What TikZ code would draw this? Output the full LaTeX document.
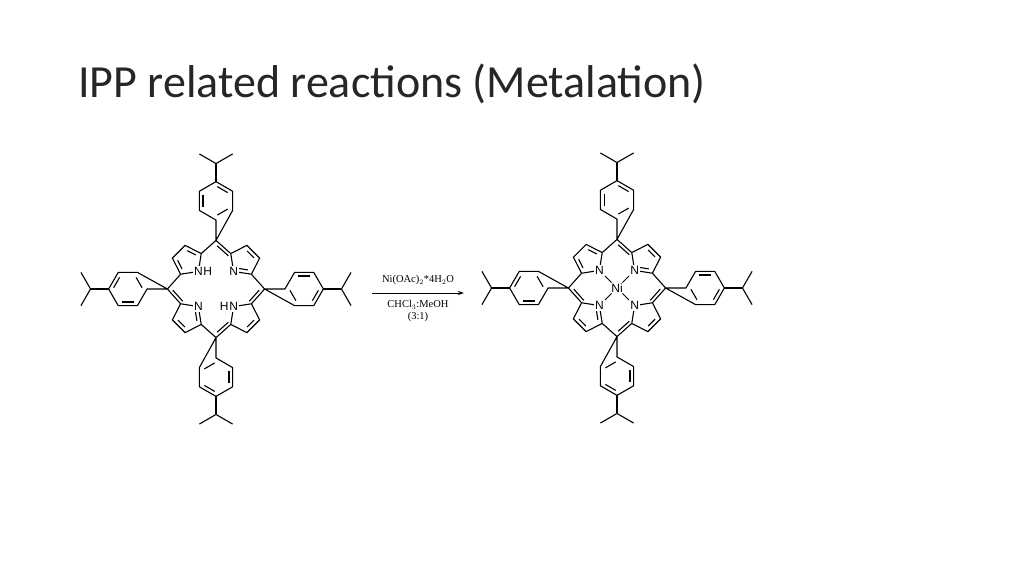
\documentclass[tikz,border=0pt]{standalone}
\usepackage{fontspec}
\setmainfont{Liberation Serif}
\newfontfamily\titlefont{Carlito}
\newfontfamily\labfont{Liberation Sans}
\usetikzlibrary{calc,arrows.meta}
\tikzset{bond/.style={line width=1.1pt},
  lab/.style={fill=white,inner sep=0.8pt,font=\labfont\fontsize{12}{12}\selectfont},
  reag/.style={font=\fontsize{10.5}{11}\selectfont,inner sep=1pt}}
\newcommand\dbl[4]{\draw[bond,shorten >=1.5pt,shorten <=1.5pt] ($(#1)!#4!(#3)$) -- ($(#2)!#4!(#3)$);}
\newcommand\pyr[3]{%
 \begin{scope}[rotate=#3]
 \coordinate (#1N#2) at (22,0);
 \coordinate (#1L#2) at (31.4,12.9);
 \coordinate (#1R#2) at (31.4,-12.9);
 \coordinate (#1U#2) at (46.6,8);
 \coordinate (#1V#2) at (46.6,-8);
 \coordinate (#1O#2) at (35.6,0);
 \end{scope}
 \draw[bond,line join=round] (#1N#2)--(#1L#2)--(#1U#2)--(#1V#2)--(#1R#2)--cycle;}
\newcommand\phen[3]{% prefix, meso index, angle
 \begin{scope}[rotate=#3]
 \coordinate (#1H#2) at (78,0);
 \coordinate (#1ha#2) at (61,0);
 \coordinate (#1hb#2) at (69.5,14.7);
 \coordinate (#1hc#2) at (86.5,14.7);
 \coordinate (#1hd#2) at (95,0);
 \coordinate (#1he#2) at (86.5,-14.7);
 \coordinate (#1hf#2) at (69.5,-14.7);
 \coordinate (#1C#2) at (111,0);
 \coordinate (#1P#2) at (119.5,14.7);
 \coordinate (#1Q#2) at (119.5,-14.7);
 \end{scope}
 \draw[bond,line join=round] (#1M#2)--(#1ha#2)--(#1hb#2)--(#1hc#2)--(#1hd#2)--(#1he#2)--(#1hf#2)--cycle;
 \draw[bond] (#1hd#2)--(#1C#2);
 \draw[bond,line join=round] (#1P#2)--(#1C#2)--(#1Q#2);
 \dbl{#1hb#2}{#1hc#2}{#1H#2}{0.22}
 \dbl{#1hd#2}{#1he#2}{#1H#2}{0.22}
 \dbl{#1hf#2}{#1ha#2}{#1H#2}{0.22}}
\newcommand\porph[4]{%
 \begin{scope}[shift={(#2,#3)},scale=1.13]
 \coordinate (#1c) at (0,0);
 \pyr{#1}{1}{45}\pyr{#1}{2}{135}\pyr{#1}{3}{225}\pyr{#1}{4}{315}
 \coordinate (#1M0) at (0:43);\coordinate (#1M1) at (90:43);
 \coordinate (#1M2) at (180:43);\coordinate (#1M3) at (270:43);
 \draw[bond] (#1L1)--(#1M1)--(#1R2);
 \draw[bond] (#1L2)--(#1M2)--(#1R3);
 \draw[bond] (#1L3)--(#1M3)--(#1R4);
 \draw[bond] (#1L4)--(#1M0)--(#1R1);
 \dbl{#1U2}{#1L2}{#1O2}{0.3}\dbl{#1V2}{#1R2}{#1O2}{0.3}
 \dbl{#1U1}{#1V1}{#1O1}{0.3}\dbl{#1N1}{#1R1}{#1O1}{0.3}
 \dbl{#1U3}{#1V3}{#1O3}{0.3}\dbl{#1N3}{#1L3}{#1O3}{0.3}
 \dbl{#1U4}{#1V4}{#1O4}{0.3}
 \dbl{#1M1}{#1L1}{#1c}{0.09}\dbl{#1M2}{#1R3}{#1c}{0.09}
 \dbl{#1M0}{#1L4}{#1c}{0.09}\dbl{#1M3}{#1R4}{#1c}{0.09}
 \phen{#1}{0}{0}\phen{#1}{1}{90}\phen{#1}{2}{180}\phen{#1}{3}{270}
 \node[lab] (#1n1) at (#1N1) {N};
 \node[lab] (#1n3) at (#1N3) {N};
 \ifnum#4=1
  \node[lab] (#1n2) at (#1N2) {N};
  \node[lab] (#1n4) at (#1N4) {N};
  \node[lab,inner sep=0.5pt] (#1ni) at (#1c) {Ni};
  \foreach \j in {1,...,4}{\draw[line width=0.8pt,shorten <=0.5pt,shorten >=0.5pt] (#1n\j)--(#1ni);}
 \else
  \node[lab] (#1n2) at (#1N2) {N};
  \node[lab,anchor=west,inner sep=0pt,xshift=-0.6pt] (#1h2) at (#1n2.east) {H};
  \node[lab] (#1n4) at (#1N4) {N};
  \node[lab,anchor=east,inner sep=0pt,xshift=0.6pt] (#1h4) at (#1n4.west) {H};
 \fi
 \end{scope}}
\begin{document}
\begin{tikzpicture}[x=1pt,y=1pt]
\fill[white] (0,-576) rectangle (1024,0);
\useasboundingbox (0,-576) rectangle (1024,0);
\node[anchor=west,inner sep=0pt,text=black!85,font=\titlefont\fontsize{46}{46}\selectfont] (title) at (78,-84) {IPP related reactions (Metalation)};
\porph{a}{216}{-289}{0}
\porph{b}{617}{-288}{1}
\coordinate (arS) at (372,-293);
\coordinate (arE) at (464,-293);
\draw[line width=0.8pt,-{Stealth[length=6pt,width=4pt]}] (arS)--(arE);
\node[reag,above=7pt] (r1) at ($(arS)!0.5!(arE)$) {Ni(OAc)$_2$*4H$_2$O};
\node[reag,below=6pt] (r2) at ($(arS)!0.5!(arE)$) {CHCl$_3$:MeOH};
\node[reag,below=1pt] (r3) at (r2.south) {(3:1)};
\end{tikzpicture}
\end{document}
